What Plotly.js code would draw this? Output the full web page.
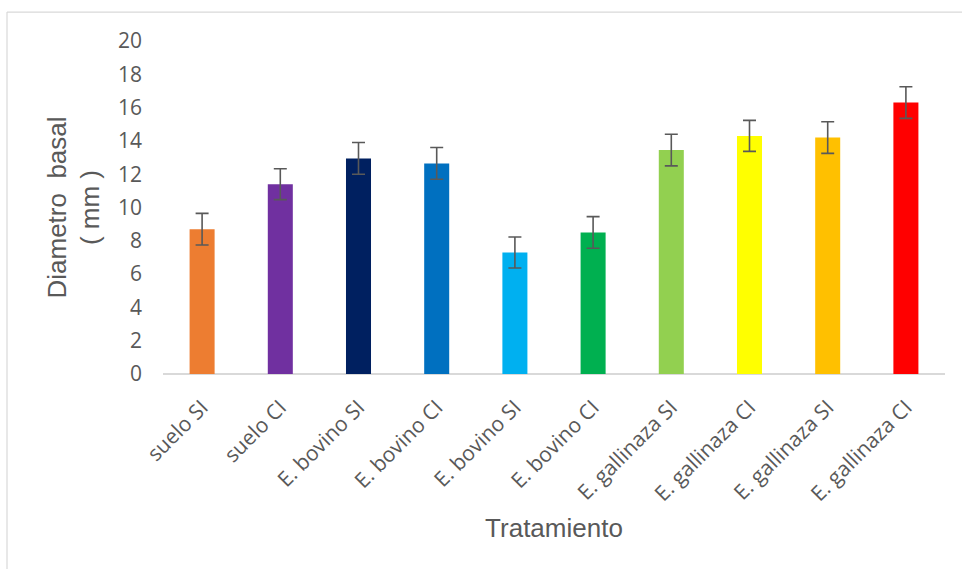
<!DOCTYPE html>
<html>
<head>
<meta charset="utf-8">
<script src="https://cdn.plot.ly/plotly-3.0.1.min.js"></script>
<style>html,body{margin:0;padding:0;background:#fff;}#chart{width:962px;height:569px;}</style>
</head>
<body>
<div id="chart"></div>
<script>
const categories = ["suelo SI", "suelo CI", "E. bovino SI", "E. bovino CI", "E. bovino SI", "E. bovino CI", "E. gallinaza SI", "E. gallinaza CI", "E. gallinaza SI", "E. gallinaza CI"];
const values = [8.7, 11.4, 12.95, 12.65, 7.3, 8.5, 13.45, 14.3, 14.2, 16.3];
const errors = [0.95, 0.93, 0.95, 0.95, 0.93, 0.95, 0.95, 0.93, 0.95, 0.95];
const colors = ["#ED7D31", "#7030A0", "#002060", "#0070C0", "#00B0F0", "#00B050", "#92D050", "#FFFF00", "#FFC000", "#FF0000"];
const yTicks = [0, 2, 4, 6, 8, 10, 12, 14, 16, 18, 20];

const positions = categories.map((c, i) => i);
const txtColor = "#595959";
const tickFam = "'Open Sans', 'DejaVu Sans', sans-serif";
const titleFam = "'Liberation Sans', Arial, sans-serif";

const trace = {
  type: "bar",
  x: positions,
  y: values,
  marker: {color: colors, line: {width: 0}},
  error_y: {type: "data", array: errors, visible: true, color: txtColor, thickness: 1.6, width: 6.5},
  hoverinfo: "skip"
};

const layout = {
  width: 962, height: 569,
  margin: {l: 163, r: 17, t: 41, b: 195},
  paper_bgcolor: "#fff", plot_bgcolor: "#fff",
  showlegend: false,
  bargap: 0.68,
  font: {family: tickFam, color: txtColor},
  xaxis: {
    range: [-0.5, categories.length - 0.5],
    tickvals: positions, ticktext: categories,
    tickangle: -45, tickfont: {size: 21, color: txtColor, family: tickFam},
    ticklabelstandoff: 16,
    showgrid: false, zeroline: false, showline: false, ticks: "",
    title: {text: "Tratamiento", font: {size: 26, color: txtColor, family: titleFam}, standoff: 13}
  },
  yaxis: {
    range: [0, 20], tickvals: yTicks, ticktext: yTicks.map(String),
    tickfont: {size: 21, color: txtColor, family: tickFam},
    ticklabelstandoff: 20,
    showgrid: false, zeroline: true, zerolinecolor: "#d9d9d9", zerolinewidth: 1.5, showline: false, ticks: "",
    title: {text: "Diametro  basal<br>( mm )", font: {size: 26, color: txtColor, family: titleFam}, standoff: 10}
  },
  shapes: [
    {type: "line", xref: "paper", yref: "paper", x0: -0.1995, x1: 1.05, y0: 1.087, y1: 1.087, line: {color: "#d9d9d9", width: 1.2}},
    {type: "line", xref: "paper", yref: "paper", x0: -0.1995, x1: -0.1995, y0: 1.087, y1: -0.7, line: {color: "#d9d9d9", width: 1.2}}
  ]
};

Plotly.newPlot("chart", [trace], layout, {displayModeBar: false, staticPlot: true});
</script>
</body>
</html>
